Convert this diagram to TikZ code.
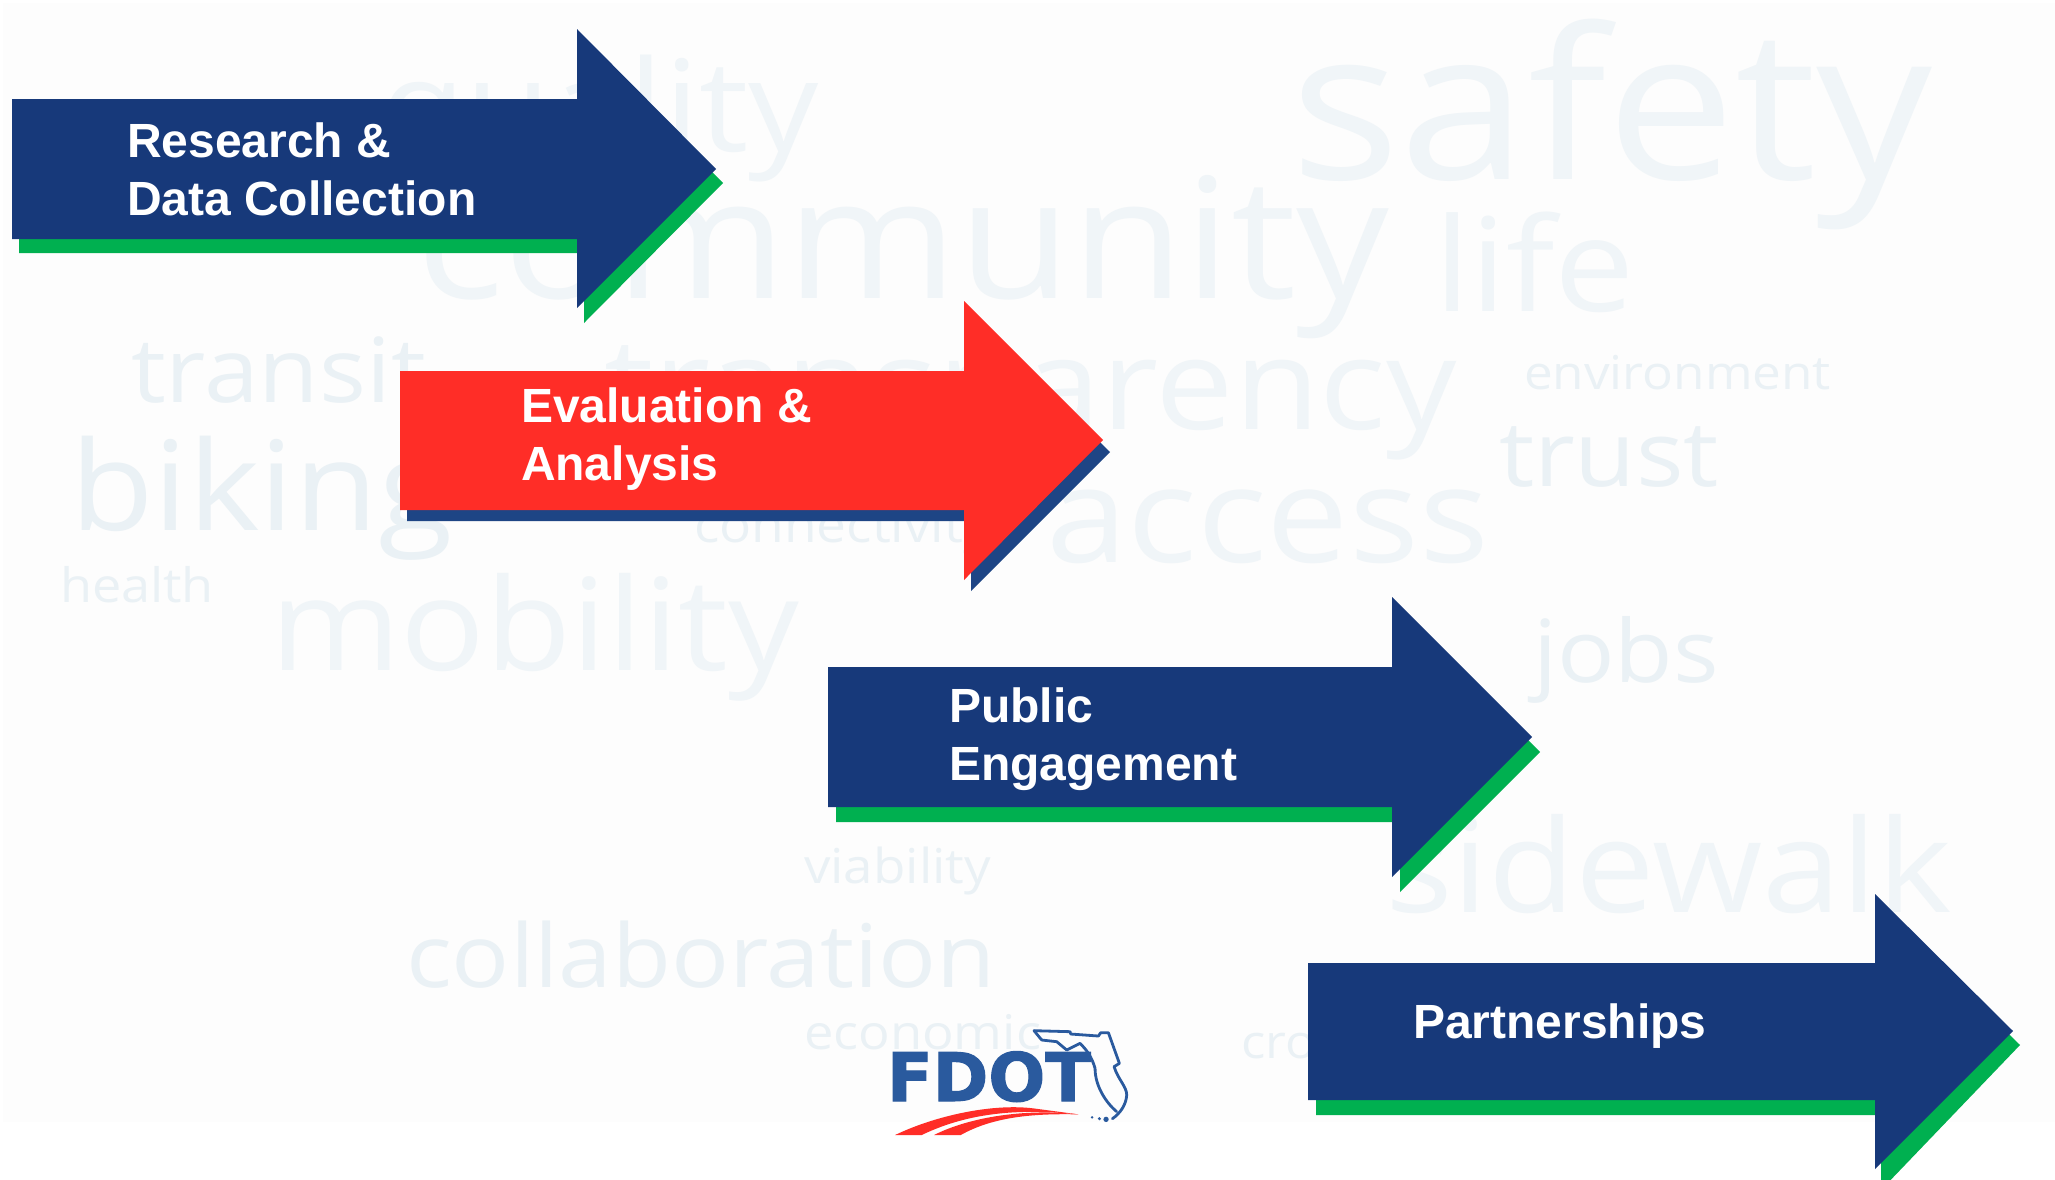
\documentclass[tikz,border=0pt]{standalone}
\usepackage{fontspec}
\usepackage{graphicx}
\setmainfont{Liberation Sans}
\newfontfamily\cloudfont{Open Sans}
\newfontfamily\logofont[FakeBold=1.6]{DejaVu Sans Bold}
\definecolor{navy}{HTML}{17397A}
\definecolor{shadowgreen}{HTML}{00B050}
\definecolor{hotred}{HTML}{FF2D27}
\definecolor{shadowblue}{HTML}{1E4585}
\definecolor{logoblue}{HTML}{2A5A9E}
\definecolor{cloudbig}{HTML}{F0F5F8}
\definecolor{cloudsmall}{HTML}{EAF1F5}
\definecolor{pagetint}{HTML}{FDFDFD}
\tikzset{
  cloudword/.style={anchor=base west,inner sep=0pt,outer sep=0pt,text=cloudbig},
  smallword/.style={cloudword,text=cloudsmall},
  arrowlabel/.style={anchor=base west,inner sep=0pt,outer sep=0pt,text=white,font=\fontsize{24pt}{28pt}\selectfont\bfseries},
}
% style, name, left, right, baseline, word
\newcommand{\cword}[6]{\node[#1] (#2) at (#3,#5) {\scalebox{1}[0.91]{\resizebox{\dimexpr(#4pt-#3pt)/2\relax}{!}{\cloudfont\fontsize{40pt}{48pt}\selectfont #6}}};}
% left, bodytop, bodybot, headx, headtop, headbot, tipx, tipy, fill
\newcommand{\bigarrow}[9]{\fill[#9] (#1,#2) -- (#4,#2) -- (#4,#5) -- (#7,#8) -- (#4,#6) -- (#4,#3) -- (#1,#3) -- cycle;}
\begin{document}
\begin{tikzpicture}[x=0.5pt,y=-0.5pt]
\useasboundingbox (0,0) rectangle (2055,1179);
\fill[white] (0,0) rectangle (2055,1179);
\fill[pagetint] (3,3) rectangle (2055,1122);
% word cloud
\cword{cloudword}{wsafety}{1290}{1933}{179}{safety}
\cword{cloudword}{wquality}{380}{819}{151}{quality}
\cword{cloudword}{wcommunity}{416}{1389}{298}{community}
\cword{cloudword}{wlife}{1434}{1635}{311}{life}
\cword{smallword}{wenv}{1524}{1831}{389}{environment}
\cword{smallword}{wtrust}{1499}{1719}{486}{trust}
\cword{cloudword}{wtransparency}{604}{1457}{429}{transparency}
\cword{cloudword}{waccess}{1046}{1489}{562}{access}
\cword{smallword}{wtransit}{131}{426}{402}{transit}
\cword{smallword}{wbiking}{70}{453}{530}{biking}
\cword{smallword}{whealth}{60}{214}{602}{health}
\cword{cloudword}{wmobility}{270}{799}{670}{mobility}
\cword{smallword}{wconn}{694}{990}{542}{connectivity}
\cword{smallword}{wjobs}{1533}{1719}{682}{jobs}
\cword{cloudword}{wsidewalk}{1385}{1952}{912}{sidewalk}
\cword{smallword}{wviab}{804}{991}{883}{viability}
\cword{smallword}{wcollab}{406}{996}{987}{collaboration}
\cword{smallword}{wecon}{804}{1041}{1049}{economic}
\cword{smallword}{wcro}{1241}{1316}{1058}{cro}
% arrows
\bigarrow{19}{113}{253}{584}{43}{323}{723}{183}{shadowgreen}
\bigarrow{12}{99}{239}{577}{29}{308}{716}{169}{navy}
\bigarrow{407}{385}{521}{971}{315}{591}{1110}{452}{shadowblue}
\bigarrow{400}{371}{510}{964}{301}{580}{1103}{440}{hotred}
\bigarrow{836}{681}{822}{1400}{611}{892}{1540}{752}{shadowgreen}
\bigarrow{828}{667}{807}{1392}{597}{877}{1532}{737}{navy}
\bigarrow{1316}{977}{1115}{1881}{908}{1190}{2020}{1045}{shadowgreen}
\bigarrow{1308}{963}{1100}{1875}{894}{1169}{2013}{1031}{navy}
% labels
\node[arrowlabel] (la) at (127,157) {Research \&};
\node[arrowlabel] (lb) at (127,215) {Data Collection};
\node[arrowlabel] (lc) at (521,422) {Evaluation \&};
\node[arrowlabel] (ld) at (521,480) {Analysis};
\node[arrowlabel] (le) at (949,722) {Public};
\node[arrowlabel] (lf) at (949,780) {Engagement};
\node[arrowlabel] (lg) at (1413,1038) {Partnerships};
% logo
\node[anchor=base west,inner sep=0pt,outer sep=0pt,text=logoblue] (fdot) at (887,1101)
  {\resizebox{102pt}{!}{\logofont FDOT}};
\begin{scope}[shift={(860,1000)},x=0.1667pt,y=-0.1667pt]
\draw[logoblue,line width=1.4pt,line join=round,line cap=round]
  (522,92) -- (630,95) -- (632,102) -- (715,108) -- (722,98) -- (745,98) -- (778,190) -- (762,200)
  .. controls (775,240) and (800,260) .. (800,285)
  .. controls (798,315) and (780,340) .. (757,356);
\draw[logoblue,line width=1.4pt,line join=round,line cap=round]
  (522,92) -- (545,120) -- (590,125) -- (620,150) -- (660,130)
  .. controls (680,150) and (695,170) .. (705,205)
  .. controls (705,260) and (740,310) .. (770,335);
\fill[logoblue] (738,358) circle (8) (718,356) circle (5) (696,352) circle (4);
\fill[hotred] (105,405) .. controls (230,345) and (400,310) .. (520,325) -- (655,343)
  .. controls (520,330) and (350,325) .. (185,405) -- cycle;
\fill[hotred] (222,405) .. controls (330,350) and (500,325) .. (655,343)
  .. controls (520,340) and (400,350) .. (302,405) -- cycle;
\end{scope}
\end{tikzpicture}
\end{document}
